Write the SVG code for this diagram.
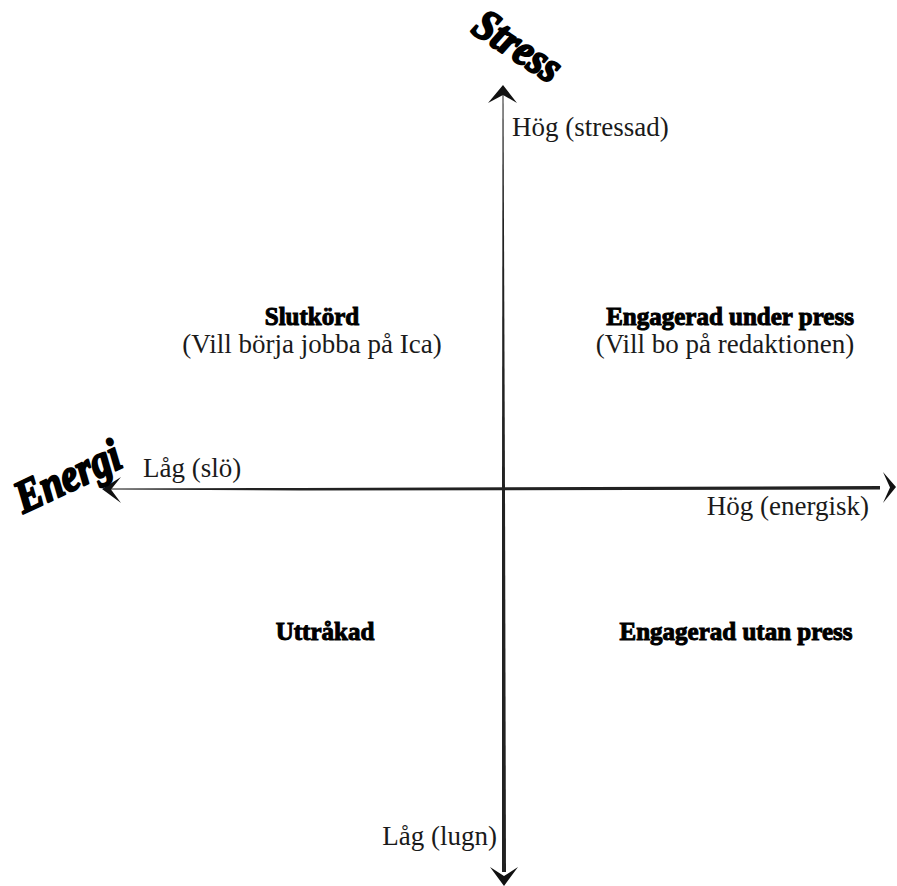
<svg xmlns="http://www.w3.org/2000/svg" width="897" height="886" viewBox="0 0 897 886">
<style>
.lbl{font-family:"Liberation Serif","DejaVu Serif",serif;font-size:27px;fill:#1a1a1a}
.hd{font-family:"Liberation Serif","DejaVu Serif",serif;font-size:25px;font-weight:bold;fill:#000;stroke:#000;stroke-width:1}
.ax{font-family:"Liberation Serif","DejaVu Serif",serif;font-weight:bold;font-style:italic;fill:#000;stroke:#000;stroke-width:2.2;stroke-linejoin:round}
.head{fill:#111}
</style>
<rect width="897" height="886" fill="#fff"/>
<g id="connectors">
<polygon points="108,488.5 300,488 880,486 880,489.5 300,490.5 108,489.5" fill="#222"/>
<polygon points="502.5,95 503.5,95 505,490 506,872 502,872 502,490" fill="#222"/>
<polygon class="head" points="102,489 121,477 111,489.5 121,503"/>
<polygon class="head" points="896,487 883,472 890,487.5 883,503"/>
<polygon class="head" points="503,85 517,103 503,95 488,103"/>
<polygon class="head" points="504,886 490,867 504,876 518,867"/>
</g>
<g id="axis-stress"><text class="ax" font-size="44" text-anchor="middle" textLength="96" lengthAdjust="spacingAndGlyphs" transform="translate(510,58) rotate(33)">Stress</text></g>
<g id="axis-energi"><text class="ax" font-size="46" text-anchor="middle" textLength="112" lengthAdjust="spacingAndGlyphs" transform="translate(74,490) rotate(-25)">Energi</text></g>
<g id="hog-stressad"><text class="lbl" x="512" y="136">Hög (stressad)</text></g>
<g id="lag-slo"><text class="lbl" x="143" y="477">Låg (slö)</text></g>
<g id="hog-energisk"><text class="lbl" x="869" y="515" text-anchor="end">Hög (energisk)</text></g>
<g id="lag-lugn"><text class="lbl" x="497" y="845" text-anchor="end">Låg (lugn)</text></g>
<g id="slutkord"><text class="hd" x="312" y="325" text-anchor="middle">Slutkörd</text><text class="lbl" x="312" y="353" text-anchor="middle">(Vill börja jobba på Ica)</text></g>
<g id="engagerad-under"><text class="hd" x="730" y="325" text-anchor="middle">Engagerad under press</text><text class="lbl" x="725" y="353" text-anchor="middle">(Vill bo på redaktionen)</text></g>
<g id="uttrakad"><text class="hd" x="325" y="640" text-anchor="middle">Uttråkad</text></g>
<g id="engagerad-utan"><text class="hd" x="736" y="640" text-anchor="middle">Engagerad utan press</text></g>
</svg>
